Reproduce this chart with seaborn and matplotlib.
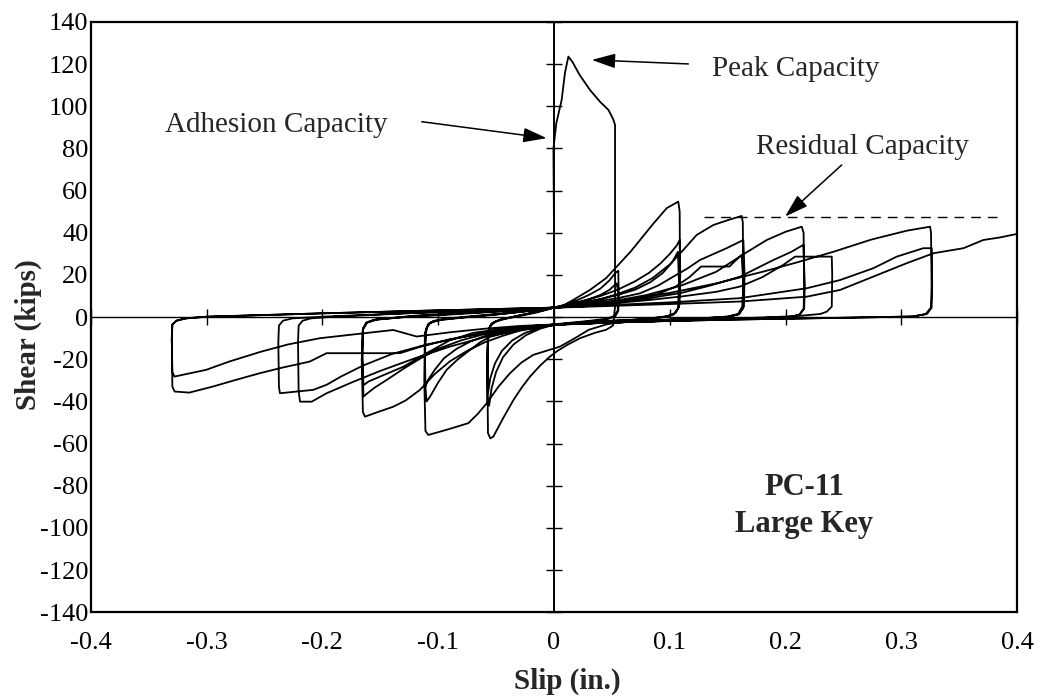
import numpy as np
import pandas as pd
import matplotlib
matplotlib.use("Agg")
import matplotlib.pyplot as plt
import seaborn as sns

# ---------------- data (slip in., shear kips) -------------
# cycle A (+/-0.055 in.)
a1_pos_x = [0.0, 0.0, -0.0005, 0.002, 0.0066, 0.0095, 0.0124, 0.016, 0.022, 0.031, 0.040, 0.047, 0.051,
            0.0527, 0.0527, 0.0527, 0.051, 0.045, 0.035, 0.0225, 0.012, 0.003]
a1_pos_y = [0, 40, 80, 92, 103, 116, 123.6, 121, 115, 107.8, 102, 98.3, 94,
            91.2, 50, 5, -4, -6, -7.5, -10, -13, -16]
a1_neg_x = [-0.0035, -0.012, -0.0207, -0.028, -0.035, -0.044, -0.0524, -0.055, -0.057, -0.0575, -0.057,
            -0.055, -0.05, -0.042, -0.03, -0.015, 0.0]
a1_neg_y = [-18.7, -23, -28.2, -33.5, -39.3, -48, -56.7, -57.5, -55, -30, -8,
            -4, -2, -0.8, 0.5, 2.2, 4.5]

a2_pos_x = [0.01, 0.02, 0.03, 0.04, 0.048, 0.053, 0.0555, 0.0558, 0.0555, 0.053, 0.047, 0.035, 0.02, 0.0]
a2_pos_y = [6, 8, 10.5, 13.5, 17.5, 21, 22, 12, 3, 0.5, -0.8, -1.8, -2.6, -3.6]
a2_neg_x = [-0.012, -0.024, -0.035, -0.044, -0.05, -0.054, -0.056, -0.0575, -0.0575, -0.056, -0.052,
            -0.045, -0.03, -0.015, 0.0]
a2_neg_y = [-5.5, -8.5, -13, -19, -26, -34, -42, -40, -15, -5, -2.5, -1, 0.8, 2.5, 4.5]

a3_pos_x = [0.01, 0.02, 0.03, 0.04, 0.048, 0.054, 0.0555, 0.055, 0.052, 0.045, 0.03, 0.015, 0.0]
a3_pos_y = [5.5, 7, 8.5, 10.5, 13, 16, 12, 3, 0.5, -0.8, -1.8, -2.6, -3.4]
a3_neg_x = [-0.012, -0.025, -0.036, -0.045, -0.051, -0.055, -0.057, -0.0575, -0.057, -0.054, -0.047,
            -0.03, -0.015, 0.0]
a3_neg_y = [-5, -7.5, -11, -16, -22, -29, -36, -25, -7, -3, -1.2, 0.8, 2.5, 4.5]

# cycle B (+/-0.11 in.)
b1_pos_x = [0.008, 0.0167, 0.031, 0.045, 0.057, 0.066, 0.0743, 0.086, 0.0973, 0.1073, 0.1085, 0.1088,
            0.108, 0.105, 0.098, 0.085, 0.06, 0.045, 0.03, 0.018, 0.005]
b1_pos_y = [5.5, 8.2, 12.9, 18.5, 25.6, 31, 36.6, 44.5, 51.7, 54.8, 50, 15,
            5, 2, 0.5, -0.5, -2, -3.5, -6, -10, -14]
b1_neg_x = [-0.0179, -0.028, -0.038, -0.048, -0.058, -0.066, -0.074, -0.09, -0.1085, -0.111, -0.112,
            -0.1115, -0.109, -0.104, -0.095, -0.08, -0.06, -0.04, -0.02, 0.0]
b1_neg_y = [-17.9, -21.5, -26.6, -33, -40.8, -46, -50.3, -53, -55.9, -54, -30,
            -8, -3.5, -1.8, -0.8, 0, 1, 2, 3.2, 4.5]

b2_pos_x = [0.01, 0.025, 0.04, 0.055, 0.07, 0.082, 0.092, 0.1, 0.106, 0.1085, 0.109, 0.108, 0.104,
            0.095, 0.07, 0.04, 0.02, 0.0]
b2_pos_y = [5.5, 7.5, 10, 13, 17, 21, 25.5, 30, 34, 36.5, 20, 5, 1.5, 0, -1.2, -2, -2.8, -3.8]
b2_neg_x = [-0.015, -0.029, -0.042, -0.055, -0.064, -0.0725, -0.083, -0.0927, -0.1, -0.107, -0.11,
            -0.1115, -0.111, -0.108, -0.1, -0.08, -0.05, -0.025, 0.0]
b2_neg_y = [-4.8, -6.1, -7.5, -9.3, -12, -15.6, -20, -25, -31, -37.7, -40,
            -30, -7, -3, -1.5, -0.3, 1.2, 2.8, 4.5]

b3_pos_x = [0.01, 0.025, 0.04, 0.055, 0.07, 0.083, 0.094, 0.102, 0.107, 0.108, 0.107, 0.103, 0.095,
            0.07, 0.04, 0.02, 0.0]
b3_pos_y = [5.3, 6.8, 8.5, 10.5, 13, 16.5, 21, 26, 31, 15, 4, 1.2, 0, -1.2, -2, -2.7, -3.6]
b3_neg_x = [-0.015, -0.03, -0.045, -0.06, -0.072, -0.084, -0.095, -0.103, -0.109, -0.111, -0.1115,
            -0.11, -0.106, -0.095, -0.07, -0.04, -0.02, 0.0]
b3_neg_y = [-4.5, -5.5, -7, -9, -11.5, -15, -19.5, -25, -30, -33, -15, -5, -2.3, -1, 0.3, 1.8, 3, 4.5]

# cycle C (+/-0.165 in.)
c1_pos_x = [0.01, 0.025, 0.04, 0.055, 0.07, 0.085, 0.1, 0.1117, 0.1232, 0.1376, 0.15, 0.162, 0.163,
            0.1635, 0.1625, 0.159, 0.15, 0.13, 0.1, 0.06, 0.03, 0.0]
c1_pos_y = [5.3, 6.8, 8.5, 11, 14, 18.5, 25, 31.9, 39, 43.7, 46, 48, 45,
            15, 5, 1.5, 0.3, -0.5, -1.3, -2.2, -2.9, -3.8]
c1_neg_x = [-0.015, -0.03, -0.045, -0.06, -0.075, -0.09, -0.103, -0.1157, -0.128, -0.1388, -0.152,
            -0.1632, -0.165, -0.166, -0.165, -0.162, -0.155, -0.13, -0.09, -0.05, -0.02, 0.0]
c1_neg_y = [-5, -6.5, -9, -12, -16, -21, -27, -34.5, -39.5, -42.5, -45,
            -47.2, -45, -20, -6, -2.8, -1.3, 0, 1.2, 2.6, 3.8, 4.5]

c2_pos_x = [0.015, 0.035, 0.055, 0.0743, 0.09, 0.103, 0.115, 0.126, 0.138, 0.149, 0.1635, 0.1645,
            0.164, 0.16, 0.15, 0.12, 0.08, 0.04, 0.0]
c2_pos_y = [5.5, 7.2, 9, 11.3, 15, 19.2, 23, 27.1, 30, 32.7, 36.6, 20,
            5, 1.5, 0.2, -0.8, -1.6, -2.5, -3.6]
c2_neg_x = [-0.02, -0.04, -0.06, -0.08, -0.1, -0.115, -0.13, -0.1445, -0.155, -0.162, -0.1645,
            -0.1655, -0.165, -0.162, -0.155, -0.12, -0.08, -0.04, 0.0]
c2_neg_y = [-4.5, -6, -8, -11, -15, -19.5, -24.5, -29.8, -33.5, -36.5, -37.7,
            -20, -5.5, -2.5, -1.2, 0.5, 1.8, 3, 4.5]

c3_pos_x = [0.02, 0.045, 0.07, 0.09, 0.105, 0.117, 0.127, 0.1515, 0.157, 0.162, 0.1635, 0.163, 0.159,
            0.15, 0.12, 0.08, 0.04, 0.0]
c3_pos_y = [5.2, 6.5, 8.3, 11, 14.5, 19, 24, 24, 27, 29.5, 15, 4, 1.2, 0, -0.8, -1.6, -2.4, -3.5]
c3_neg_x = [-0.02, -0.045, -0.07, -0.09, -0.11, -0.13, -0.1503, -0.16, -0.1645, -0.1655, -0.165,
            -0.161, -0.152, -0.12, -0.08, -0.04, 0.0]
c3_neg_y = [-4.2, -5.5, -7.5, -11, -17.1, -23.5, -28.2, -30.5, -32.3, -18, -5.5, -2.5, -1, 0.7, 2, 3.2, 4.5]

# cycle D (+0.215..0.24 / -0.22..-0.238 in.)
d1_pos_x = [0.02, 0.05, 0.08, 0.11, 0.14, 0.165, 0.1837, 0.2, 0.2139, 0.2155, 0.216, 0.2155, 0.212,
            0.205, 0.18, 0.12, 0.06, 0.0]
d1_pos_y = [5.5, 7.5, 10.5, 15, 21.5, 30.3, 36.6, 40.5, 42.9, 40, 15, 4, 1.2, 0.2, -0.4, -1.4, -2.4, -3.6]
d1_neg_x = [-0.03, -0.06, -0.09, -0.12, -0.15, -0.173, -0.1963, -0.2092, -0.2193, -0.2205, -0.221,
            -0.2205, -0.217, -0.21, -0.19, -0.12, -0.06, 0.0]
d1_neg_y = [-6, -9.5, -14, -19.5, -25.5, -30.6, -36.1, -40.1, -40.1, -35, -12, -4, -1.7, -0.6, 0.2, 2, 3.2, 4.5]

d2_pos_x = [0.02, 0.05, 0.08, 0.11, 0.135, 0.1606, 0.1894, 0.205, 0.2153, 0.2165, 0.216, 0.212, 0.205,
            0.18, 0.12, 0.06, 0.0]
d2_pos_y = [5.3, 6.8, 8.8, 11.5, 15, 19.2, 27.1, 31, 34.3, 15, 4, 1.2, 0.2, -0.4, -1.4, -2.4, -3.5]
d2_neg_x = [-0.03, -0.07, -0.11, -0.14, -0.165, -0.184, -0.196, -0.2078, -0.2366, -0.2375, -0.238,
            -0.2375, -0.234, -0.226, -0.2, -0.13, -0.06, 0.0]
d2_neg_y = [-5.5, -8.5, -13, -17.5, -23, -28.2, -32, -34.5, -36.1, -33, -12, -4, -1.7, -0.6, 0.2, 1.8, 3.2, 4.5]

d3_pos_x = [0.02, 0.05, 0.08, 0.11, 0.14, 0.1606, 0.18, 0.198, 0.2081, 0.2398, 0.2402, 0.2398, 0.2355,
            0.23, 0.21, 0.15, 0.08, 0.0]
d3_pos_y = [5.2, 6.5, 8, 9.8, 12, 14.5, 19, 24.8, 28.7, 28.7, 20, 5, 2.6, 1.5, 0.5, -0.8, -2, -3.5]
d3_neg_x = [-0.03, -0.06, -0.09, -0.115, -0.133, -0.1963, -0.205, -0.211, -0.235, -0.254, -0.2749,
            -0.295, -0.3149, -0.3275, -0.3295, -0.33, -0.3295, -0.326, -0.318, -0.3, -0.2, -0.1, 0.0]
d3_neg_y = [-5, -7.5, -10.5, -14, -17.1, -17.1, -19.5, -21.1, -24, -26.6, -29.8,
            -33, -35.8, -35.3, -33, -10, -3.5, -1.7, -0.6, 0.2, 1.8, 3.2, 4.5]

# cycle E (+0.325 / -0.33 in.) and final push
e1_pos_x = [0.02, 0.06, 0.1, 0.14, 0.18, 0.21, 0.2412, 0.274, 0.3046, 0.3247, 0.3255, 0.326, 0.3255,
            0.321, 0.31, 0.25, 0.15, 0.07, 0.0]
e1_pos_y = [5.5, 8, 11.5, 16, 21.5, 26, 31, 36.8, 41, 42.9, 40, 15, 4.6, 1.5, 0.3, -0.3, -1.2, -2.2, -3.5]
e1_neg_x = [-0.03, -0.06, -0.09, -0.1186, -0.1388, -0.17, -0.2022, -0.23, -0.253, -0.28, -0.3003,
            -0.3277, -0.3295, -0.33, -0.3295, -0.326, -0.318, -0.3, -0.2, -0.1, 0.0]
e1_neg_y = [-4.2, -5.5, -7.2, -9.2, -6.1, -8, -10, -13, -16.4, -21, -25,
            -28.2, -26, -10, -3.5, -1.7, -0.6, 0.2, 1.8, 3.2, 4.5]

e2_pos_x = [0.02, 0.06, 0.1, 0.1606, 0.2182, 0.247, 0.2757, 0.2959, 0.3189, 0.3261, 0.3265, 0.326,
            0.322, 0.31, 0.25, 0.15, 0.07, 0.0]
e2_pos_y = [5, 6, 7, 9, 13.7, 17.6, 23.2, 28.7, 32.7, 32.7, 15, 4.5, 1.5, 0.3, -0.3, -1.2, -2.2, -3.5]

final_x = [0.0, 0.02, 0.06, 0.1, 0.1606, 0.2182, 0.247, 0.2757, 0.3046, 0.3276, 0.3535, 0.3707, 0.385, 0.4]
final_y = [4.5, 4.8, 5.5, 6.2, 7.4, 9.7, 12.9, 19.2, 25.6, 30.3, 32.7, 36.6, 37.8, 39.5]

residual_capacity = 47.4
residual_span = [0.1295, 0.385]

x_ticks = [-0.4, -0.3, -0.2, -0.1, 0.0, 0.1, 0.2, 0.3, 0.4]
x_tick_labels = ["-0.4", "-0.3", "-0.2", "-0.1", "0", "0.1", "0.2", "0.3", "0.4"]
y_ticks = [-140, -120, -100, -80, -60, -40, -20, 0, 20, 40, 60, 80, 100, 120, 140]
y_tick_labels = [str(v) for v in y_ticks]

# ---------------- assemble the loading history in order ----------------
segments = [
    (a1_pos_x, a1_pos_y), (a1_neg_x, a1_neg_y),
    (a2_pos_x, a2_pos_y), (a2_neg_x, a2_neg_y),
    (a3_pos_x, a3_pos_y), (a3_neg_x, a3_neg_y),
    (b1_pos_x, b1_pos_y), (b1_neg_x, b1_neg_y),
    (b2_pos_x, b2_pos_y), (b2_neg_x, b2_neg_y),
    (b3_pos_x, b3_pos_y), (b3_neg_x, b3_neg_y),
    (c1_pos_x, c1_pos_y), (c1_neg_x, c1_neg_y),
    (c2_pos_x, c2_pos_y), (c2_neg_x, c2_neg_y),
    (c3_pos_x, c3_pos_y), (c3_neg_x, c3_neg_y),
    (d1_pos_x, d1_pos_y), (d1_neg_x, d1_neg_y),
    (d2_pos_x, d2_pos_y), (d2_neg_x, d2_neg_y),
    (d3_pos_x, d3_pos_y), (d3_neg_x, d3_neg_y),
    (e1_pos_x, e1_pos_y), (e1_neg_x, e1_neg_y),
    (e2_pos_x, e2_pos_y), (final_x, final_y),
]
slip = np.concatenate([np.asarray(s[0], float) for s in segments])
shear = np.concatenate([np.asarray(s[1], float) for s in segments])
df = pd.DataFrame({"step": np.arange(len(slip)), "Slip": slip, "Shear": shear})

# ---------------- styling ----------------
sns.set_style("white")
plt.rcParams["font.family"] = ["Liberation Serif", "DejaVu Serif"]
plt.rcParams["axes.unicode_minus"] = False

fig = plt.figure(figsize=(10.45, 6.96), dpi=100)
rect = [0.0868, 0.1203, 0.8867, 0.8481]
ax = fig.add_axes(rect)

sns.lineplot(data=df, x="Slip", y="Shear", sort=False, estimator=None,
             color="black", lw=1.3, ax=ax, zorder=3)

ax.set_xlim(-0.4, 0.4)
ax.set_ylim(-140, 140)
ax.set_xticks(x_ticks)
ax.set_xticklabels(x_tick_labels)
ax.set_yticks(y_ticks)
ax.set_yticklabels(y_tick_labels)
ax.tick_params(axis="both", length=0, labelsize=19, colors="black")
ax.tick_params(axis="x", pad=14)
ax.tick_params(axis="y", pad=1.5)
for s in ax.spines.values():
    s.set_visible(True)
    s.set_color("black")
    s.set_linewidth(1.6)
ax.grid(False)

ax.set_xlabel("Slip (in.)", fontsize=21, fontweight="bold")
ax.set_ylabel("Shear (kips)", fontsize=21, fontweight="bold")
ax.xaxis.set_label_coords(0.5147, -0.094)
ax.yaxis.set_label_coords(-0.0526, 0.471)

# overlay axes: crossing axis lines through the origin with in-out ticks
ax0 = fig.add_axes(rect, sharex=ax, sharey=ax, facecolor="none")
ax0.spines["top"].set_visible(False)
ax0.spines["right"].set_visible(False)
ax0.spines["left"].set_position(("data", 0))
ax0.spines["bottom"].set_position(("data", 0))
ax0.spines["left"].set_linewidth(1.4)
ax0.spines["bottom"].set_linewidth(1.0)
ax0.spines["left"].set_color("black")
ax0.spines["bottom"].set_color("black")
ax0.tick_params(axis="both", which="major", direction="inout", length=11, width=1.0, colors="black",
                bottom=True, left=True, top=False, right=False,
                labelleft=False, labelbottom=False)
ax0.grid(False)
ax0.set_xlabel("")
ax0.set_ylabel("")

# residual capacity dashed line
ax.hlines(residual_capacity, residual_span[0], residual_span[1], colors="black",
          linestyles=(0, (7, 5)), lw=1.0, zorder=2)

# annotations
arrow_kw = dict(arrowstyle="-|>,head_length=0.9,head_width=0.28", mutation_scale=16,
                color="black", lw=1.1, shrinkA=0, shrinkB=0)
ax.annotate("", xy=(0.0326, 122.0), xytext=(0.116, 120.1), arrowprops=arrow_kw)
ax.text(0.1362, 114.4, "Peak Capacity", fontsize=21, ha="left", va="baseline")

ax.annotate("", xy=(-0.0063, 84.9), xytext=(-0.1142, 92.7), arrowprops=arrow_kw)
ax.text(-0.3359, 88.0, "Adhesion Capacity", fontsize=21, ha="left", va="baseline")

ax.annotate("", xy=(0.1995, 47.7), xytext=(0.2484, 72.2), arrowprops=arrow_kw)
ax.text(0.1744, 77.3, "Residual Capacity", fontsize=21, ha="left", va="baseline")

ax.text(0.2159, -84.3, "PC-11", fontsize=22, fontweight="bold", ha="center", va="baseline")
ax.text(0.2159, -101.7, "Large Key", fontsize=22, fontweight="bold", ha="center", va="baseline")

fig.savefig("out.png", dpi=100)
